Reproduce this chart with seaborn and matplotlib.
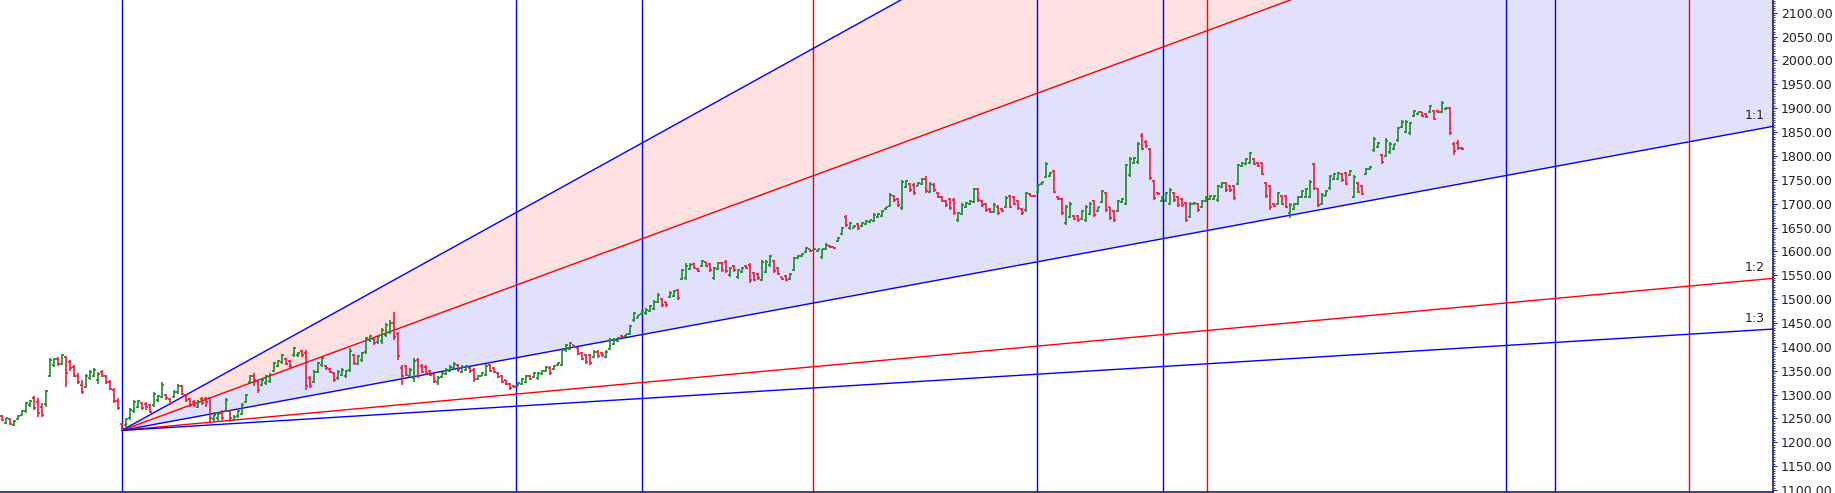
import numpy as np
import pandas as pd
import matplotlib
matplotlib.use("Agg")
import matplotlib.pyplot as plt
from matplotlib.ticker import MultipleLocator, FormatStrFormatter
import seaborn as sns

# Daily OHLC bars
opens = [
    1255, 1240, 1248, 1236, 1248, 1258, 1266, 1278, 1292, 1285,
    1275, 1280, 1340, 1362, 1374, 1365, 1378, 1368, 1358, 1340,
    1320, 1316, 1334, 1340, 1330, 1348, 1338, 1326, 1310, 1286,
    1238, 1236, 1250, 1265, 1275, 1283, 1280, 1278, 1278, 1288,
    1296, 1300, 1290, 1294, 1305, 1318, 1300, 1290, 1285, 1274,
    1290, 1290, 1292, 1248, 1250, 1262, 1266, 1265, 1246, 1255, 1260,
    1285, 1327, 1340, 1328, 1320, 1324, 1328, 1350, 1360, 1368,
    1374, 1370, 1382, 1382, 1392, 1388, 1335, 1326, 1348, 1362,
    1360, 1354, 1346, 1334, 1342, 1340, 1352, 1384, 1365, 1372, 1390,
    1414, 1416, 1410, 1412, 1425, 1432, 1450, 1428, 1355, 1360,
    1340, 1334, 1372, 1360, 1358, 1350, 1344, 1326, 1336, 1344, 1350,
    1355, 1363, 1348, 1352, 1356, 1352, 1333, 1340, 1342, 1362, 1356,
    1346, 1340, 1330, 1322, 1318, 1318, 1322, 1326, 1340, 1336,
    1334, 1343, 1350, 1356, 1354, 1361, 1362, 1393, 1396,
    1403, 1398, 1388, 1384, 1382, 1378, 1390, 1388, 1378,
    1395, 1406, 1413, 1423, 1422, 1428, 1456, 1461, 1469, 1470,
    1476, 1480, 1494, 1500, 1493, 1504, 1507, 1520, 1542, 1545,
    1563, 1573, 1564, 1570, 1577, 1573, 1544, 1563, 1576, 1578,
    1550, 1569, 1546, 1556, 1570, 1572, 1555, 1552, 1540, 1557,
    1572, 1580, 1566, 1546, 1548, 1542, 1560, 1587, 1591, 1598,
    1605, 1603, 1601, 1588, 1605, 1612, 1609, 1622, 1636, 1672,
    1648, 1650, 1657, 1654, 1657, 1661, 1664, 1671, 1675, 1689,
    1696, 1716, 1709, 1690, 1735, 1741, 1740, 1738, 1741, 1752,
    1725, 1740, 1723, 1713, 1706, 1709, 1708, 1665, 1679,
    1692, 1699, 1704, 1730, 1706, 1699, 1688, 1682, 1694,
    1688, 1692, 1716, 1713, 1706, 1688, 1686, 1721, 1717,
    1724, 1741, 1756, 1758, 1768, 1714, 1709, 1660, 1672,
    1674, 1674, 1668, 1666, 1679, 1705, 1685, 1704,
    1722, 1692, 1685, 1685, 1703, 1700, 1760, 1786, 1788, 1842,
    1830, 1814, 1748, 1723, 1706, 1706, 1700, 1722, 1713,
    1709, 1702, 1672, 1699, 1699, 1692, 1706, 1710, 1710, 1707,
    1734, 1744, 1737, 1737, 1742, 1779, 1783, 1786, 1793,
    1786, 1786, 1744, 1736, 1700, 1700, 1716, 1716, 1680,
    1689, 1699, 1713, 1713, 1714, 1783, 1730, 1700, 1717,
    1732, 1752, 1752, 1762, 1765, 1759, 1714, 1744, 1737, 1762,
    1772, 1812, 1818, 1802, 1800, 1808, 1814, 1833, 1860,
    1850, 1847, 1884, 1888, 1891, 1887, 1891, 1894, 1895, 1891,
    1898, 1900, 1826, 1828, 1817,
]
highs = [
    1258, 1252, 1250, 1246, 1257, 1268, 1285, 1289, 1297, 1292,
    1282, 1310, 1376, 1376, 1378, 1386, 1380, 1372, 1362, 1345,
    1330, 1344, 1351, 1355, 1348, 1351, 1341, 1330, 1313, 1292,
    1240, 1250, 1271, 1289, 1289, 1285, 1285, 1281, 1306, 1299,
    1327, 1302, 1292, 1309, 1323, 1320, 1302, 1292, 1288, 1289,
    1294, 1294, 1296, 1264, 1264, 1268, 1292, 1268, 1257, 1268, 1282,
    1302, 1341, 1345, 1331, 1334, 1341, 1345, 1369, 1372, 1386,
    1376, 1372, 1400, 1390, 1393, 1393, 1338, 1352, 1369, 1379,
    1362, 1355, 1348, 1352, 1355, 1352, 1397, 1386, 1383, 1390, 1421,
    1425, 1418, 1425, 1439, 1449, 1456, 1474, 1432, 1362, 1362,
    1355, 1376, 1376, 1365, 1362, 1352, 1345, 1338, 1348, 1355, 1362,
    1369, 1365, 1362, 1362, 1358, 1355, 1341, 1348, 1365, 1365, 1358,
    1348, 1341, 1331, 1324, 1320, 1327, 1334, 1341, 1341, 1348,
    1348, 1352, 1359, 1359, 1362, 1369, 1397, 1407, 1411,
    1404, 1400, 1390, 1386, 1386, 1393, 1393, 1390, 1393,
    1418, 1418, 1421, 1425, 1428, 1446, 1474, 1467, 1477, 1481,
    1488, 1498, 1512, 1502, 1495, 1516, 1519, 1522, 1564, 1575,
    1575, 1575, 1565, 1582, 1578, 1575, 1568, 1578, 1578, 1582,
    1568, 1571, 1564, 1568, 1571, 1575, 1557, 1554, 1582, 1582,
    1592, 1582, 1568, 1547, 1550, 1554, 1589, 1592, 1596, 1610,
    1606, 1606, 1606, 1606, 1617, 1613, 1610, 1631, 1652, 1676,
    1662, 1655, 1659, 1662, 1666, 1666, 1680, 1680, 1687, 1694,
    1722, 1718, 1711, 1750, 1750, 1743, 1743, 1746, 1753, 1757,
    1746, 1743, 1725, 1715, 1708, 1711, 1711, 1683, 1701,
    1704, 1708, 1732, 1732, 1708, 1701, 1690, 1701, 1697,
    1690, 1715, 1718, 1715, 1708, 1690, 1725, 1722, 1718,
    1743, 1746, 1788, 1767, 1770, 1715, 1711, 1697, 1704,
    1676, 1676, 1687, 1697, 1704, 1708, 1694, 1729,
    1725, 1694, 1687, 1708, 1711, 1784, 1798, 1798, 1830, 1847,
    1833, 1816, 1750, 1725, 1715, 1725, 1732, 1725, 1715,
    1711, 1704, 1704, 1704, 1701, 1708, 1715, 1718, 1718, 1739,
    1746, 1746, 1739, 1739, 1784, 1788, 1795, 1809, 1795,
    1788, 1788, 1746, 1739, 1701, 1725, 1718, 1718, 1701,
    1701, 1715, 1729, 1732, 1750, 1785, 1732, 1722, 1729,
    1760, 1764, 1767, 1764, 1767, 1771, 1760, 1746, 1739, 1774,
    1778, 1840, 1830, 1805, 1837, 1830, 1826, 1861, 1875,
    1875, 1872, 1896, 1893, 1893, 1889, 1907, 1896, 1896, 1914,
    1903, 1903, 1830, 1833, 1819,
]
lows = [
    1244, 1238, 1236, 1234, 1246, 1256, 1262, 1274, 1268, 1254,
    1254, 1275, 1337, 1358, 1360, 1362, 1316, 1350, 1337, 1323,
    1302, 1313, 1330, 1337, 1323, 1337, 1323, 1309, 1282, 1268,
    1225, 1233, 1247, 1261, 1271, 1268, 1268, 1261, 1275, 1285,
    1292, 1288, 1278, 1292, 1302, 1299, 1285, 1275, 1275, 1271,
    1278, 1275, 1243, 1243, 1243, 1247, 1264, 1243, 1244, 1252, 1257,
    1282, 1324, 1318, 1303, 1317, 1320, 1324, 1348, 1358, 1365,
    1362, 1355, 1379, 1379, 1379, 1310, 1313, 1324, 1345, 1358,
    1352, 1345, 1327, 1331, 1338, 1334, 1348, 1362, 1362, 1369, 1386,
    1411, 1404, 1407, 1407, 1421, 1428, 1414, 1372, 1320, 1338,
    1338, 1327, 1334, 1345, 1341, 1338, 1324, 1320, 1334, 1341, 1348,
    1352, 1348, 1345, 1350, 1345, 1327, 1331, 1338, 1338, 1348, 1345,
    1334, 1324, 1320, 1310, 1313, 1317, 1320, 1324, 1331, 1334,
    1331, 1341, 1348, 1341, 1352, 1359, 1359, 1390, 1393,
    1397, 1383, 1372, 1365, 1362, 1376, 1376, 1379, 1376,
    1393, 1404, 1411, 1418, 1421, 1425, 1453, 1460, 1467, 1467,
    1474, 1477, 1491, 1484, 1484, 1502, 1505, 1498, 1540, 1540,
    1561, 1564, 1557, 1568, 1568, 1557, 1540, 1561, 1557, 1554,
    1547, 1557, 1543, 1554, 1564, 1533, 1537, 1540, 1537, 1554,
    1568, 1554, 1550, 1540, 1537, 1540, 1558, 1585, 1589, 1596,
    1599, 1603, 1599, 1585, 1603, 1608, 1606, 1620, 1634, 1652,
    1645, 1648, 1645, 1652, 1655, 1659, 1662, 1669, 1673, 1687,
    1694, 1704, 1694, 1687, 1732, 1725, 1718, 1736, 1739, 1722,
    1722, 1725, 1711, 1704, 1694, 1687, 1676, 1662, 1676,
    1690, 1697, 1701, 1704, 1694, 1683, 1680, 1680, 1676,
    1683, 1690, 1690, 1697, 1687, 1676, 1683, 1715, 1714,
    1722, 1739, 1753, 1756, 1722, 1708, 1676, 1655, 1669,
    1666, 1662, 1666, 1662, 1676, 1673, 1683, 1701,
    1683, 1666, 1662, 1683, 1701, 1697, 1756, 1784, 1784, 1812,
    1816, 1750, 1708, 1718, 1704, 1704, 1697, 1704, 1694,
    1694, 1662, 1669, 1697, 1683, 1690, 1704, 1708, 1708, 1704,
    1732, 1725, 1725, 1708, 1739, 1777, 1781, 1784, 1781,
    1777, 1760, 1711, 1687, 1694, 1697, 1697, 1690, 1669,
    1687, 1697, 1711, 1711, 1711, 1729, 1694, 1697, 1715,
    1729, 1750, 1750, 1746, 1739, 1757, 1711, 1722, 1718, 1760,
    1771, 1809, 1816, 1784, 1798, 1805, 1812, 1830, 1858,
    1847, 1844, 1882, 1886, 1882, 1879, 1889, 1875, 1889, 1889,
    1896, 1844, 1802, 1812, 1812,
]
closes = [
    1247, 1250, 1238, 1244, 1255, 1266, 1282, 1286, 1272, 1262,
    1258, 1308, 1372, 1374, 1364, 1382, 1345, 1355, 1340, 1326,
    1306, 1340, 1348, 1352, 1344, 1340, 1326, 1312, 1286, 1272,
    1230, 1248, 1268, 1285, 1286, 1272, 1275, 1264, 1302, 1297,
    1320, 1292, 1282, 1306, 1318, 1302, 1288, 1278, 1278, 1285,
    1282, 1285, 1250, 1258, 1260, 1252, 1288, 1250, 1254, 1265, 1278,
    1300, 1338, 1330, 1310, 1330, 1338, 1342, 1366, 1370, 1383,
    1365, 1360, 1397, 1388, 1382, 1318, 1318, 1348, 1366, 1376,
    1355, 1348, 1330, 1348, 1352, 1350, 1392, 1366, 1380, 1387, 1418,
    1422, 1408, 1422, 1435, 1445, 1450, 1420, 1380, 1340, 1342,
    1352, 1370, 1340, 1348, 1345, 1342, 1328, 1334, 1346, 1352, 1358,
    1365, 1352, 1358, 1360, 1350, 1332, 1338, 1346, 1360, 1350, 1348,
    1336, 1327, 1322, 1313, 1315, 1325, 1332, 1338, 1333, 1346,
    1345, 1350, 1357, 1345, 1360, 1367, 1394, 1404, 1408,
    1399, 1386, 1375, 1368, 1366, 1390, 1380, 1382, 1390,
    1415, 1414, 1419, 1420, 1427, 1443, 1470, 1466, 1475, 1478,
    1485, 1495, 1508, 1487, 1487, 1513, 1516, 1502, 1560, 1570,
    1572, 1566, 1559, 1580, 1570, 1560, 1565, 1575, 1560, 1558,
    1565, 1560, 1560, 1566, 1566, 1540, 1540, 1545, 1578, 1578,
    1590, 1558, 1552, 1542, 1540, 1552, 1586, 1590, 1594, 1608,
    1601, 1605, 1605, 1604, 1614, 1609, 1607, 1629, 1649, 1655,
    1659, 1653, 1648, 1660, 1664, 1665, 1677, 1678, 1685, 1692,
    1719, 1708, 1697, 1745, 1747, 1729, 1722, 1744, 1751, 1726,
    1742, 1728, 1714, 1706, 1697, 1690, 1680, 1680, 1698,
    1702, 1706, 1730, 1708, 1697, 1686, 1683, 1698, 1680,
    1685, 1712, 1694, 1700, 1690, 1680, 1722, 1717, 1715,
    1740, 1745, 1784, 1765, 1725, 1710, 1680, 1694, 1700,
    1668, 1665, 1684, 1694, 1700, 1676, 1692, 1726,
    1686, 1669, 1665, 1705, 1709, 1780, 1794, 1796, 1826, 1815,
    1820, 1754, 1712, 1720, 1713, 1722, 1728, 1708, 1697,
    1697, 1666, 1700, 1702, 1686, 1706, 1713, 1716, 1716, 1736,
    1744, 1728, 1728, 1712, 1780, 1786, 1793, 1806, 1784,
    1779, 1763, 1715, 1692, 1696, 1722, 1700, 1694, 1698,
    1699, 1713, 1727, 1730, 1746, 1732, 1698, 1718, 1727,
    1757, 1762, 1765, 1749, 1742, 1769, 1756, 1725, 1721, 1772,
    1777, 1836, 1828, 1788, 1832, 1826, 1824, 1858, 1872,
    1870, 1868, 1894, 1891, 1884, 1882, 1905, 1878, 1891, 1911,
    1901, 1848, 1810, 1816, 1814,
]

# Gann fan settings
pivot_bar = 30
pivot_price = 1225
unit_slope = 1.543        # price per bar for the 1x1 line
fan_ratios = [3, 2, 1, 1 / 2, 1 / 3]
fan_names = ["3:1", "2:1", "1:1", "1:2", "1:3"]
fan_colors = ["#0000ff", "#ff0000", "#0000ff", "#ff0000", "#0000ff"]
fan_labels = ["1:1", "1:2", "1:3"]

# time cycle lines, in bars after the pivot
cycle_bars = [98.6, 130.1, 172.9, 228.8, 260.2, 271.2, 346.1, 358.3, 391.7]
cycle_colors = ["#0000ff", "#0000ff", "#ff0000", "#0000ff", "#0000ff",
                "#ff0000", "#0000ff", "#0000ff", "#ff0000"]

x_min, x_max = -0.43, 442.8
y_min, y_max = 1097, 2126.6

UP = "#1c8a28"
DOWN = "#ec1a3a"
AXIS = "#1c1c78"

sns.set_style("white")
plt.rcParams["font.family"] = ["DejaVu Sans"]

fig = plt.figure(figsize=(18.35, 4.93), dpi=100)
ax = fig.add_axes([0.0, 0.003, 1773 / 1835, 0.997])

# shaded zones of the fan
xs = np.linspace(pivot_bar, x_max, 200)
line_at = lambda r: pivot_price + r * unit_slope * (xs - pivot_bar)
ax.fill_between(xs, line_at(2), line_at(3), color="#ffe1e1", lw=0, zorder=1)
ax.fill_between(xs, line_at(1), line_at(2), color="#e1e1fb", lw=0, zorder=1)

# fan lines
fan_df = pd.DataFrame({
    "bar": np.tile([pivot_bar, x_max], len(fan_ratios)),
    "price": [pivot_price + r * unit_slope * (x - pivot_bar)
              for r in fan_ratios for x in (pivot_bar, x_max)],
    "ratio": np.repeat(fan_names, 2),
})
sns.lineplot(data=fan_df, x="bar", y="price", hue="ratio",
             palette=dict(zip(fan_names, fan_colors)), estimator=None,
             legend=False, lw=1.0, ax=ax, zorder=3)

# vertical lines: pivot + time cycles
ax.axvline(pivot_bar, color="#0000ff", lw=1.0, zorder=2)
for cb, cc in zip(cycle_bars, cycle_colors):
    ax.axvline(pivot_bar + cb, color=cc, lw=1.0, zorder=2)

# OHLC bars
bars = pd.DataFrame({"open": opens, "high": highs, "low": lows, "close": closes})
bars["idx"] = np.arange(len(bars))
col = np.where(bars["close"] >= bars["open"], UP, DOWN)
tick = 0.5
ax.vlines(bars["idx"], bars["low"], bars["high"], colors=col, lw=1.2, zorder=4)
ax.hlines(bars["open"], bars["idx"] - tick, bars["idx"], colors=col, lw=1.2, zorder=4)
ax.hlines(bars["close"], bars["idx"], bars["idx"] + tick, colors=col, lw=1.2, zorder=4)

# ratio labels at the right edge
for name in fan_labels:
    r = fan_ratios[fan_names.index(name)]
    y_end = pivot_price + r * unit_slope * (x_max - pivot_bar)
    ax.annotate(name, xy=(x_max, y_end), xytext=(-6, 3), textcoords="offset points",
                ha="right", va="bottom", fontsize=9, color="#222222")

ax.set_xlim(x_min, x_max)
ax.set_ylim(y_min, y_max)

ax.yaxis.tick_right()
ax.yaxis.set_major_locator(MultipleLocator(50))
ax.yaxis.set_minor_locator(MultipleLocator(5))
ax.yaxis.set_major_formatter(FormatStrFormatter("%.2f"))
ax.tick_params(axis="y", which="major", length=3, width=0.8, color=AXIS,
               pad=2.5, labelsize=9, labelcolor="#222222")
ax.tick_params(axis="y", which="minor", length=1.6, width=0.6, color=AXIS)
ax.set_xticks([])
ax.set_xlabel("")
ax.set_ylabel("")

for side in ["top", "left"]:
    ax.spines[side].set_visible(False)
for side in ["right", "bottom"]:
    ax.spines[side].set_color(AXIS)
    ax.spines[side].set_linewidth(1.2)

fig.savefig("out.png", dpi=100)
